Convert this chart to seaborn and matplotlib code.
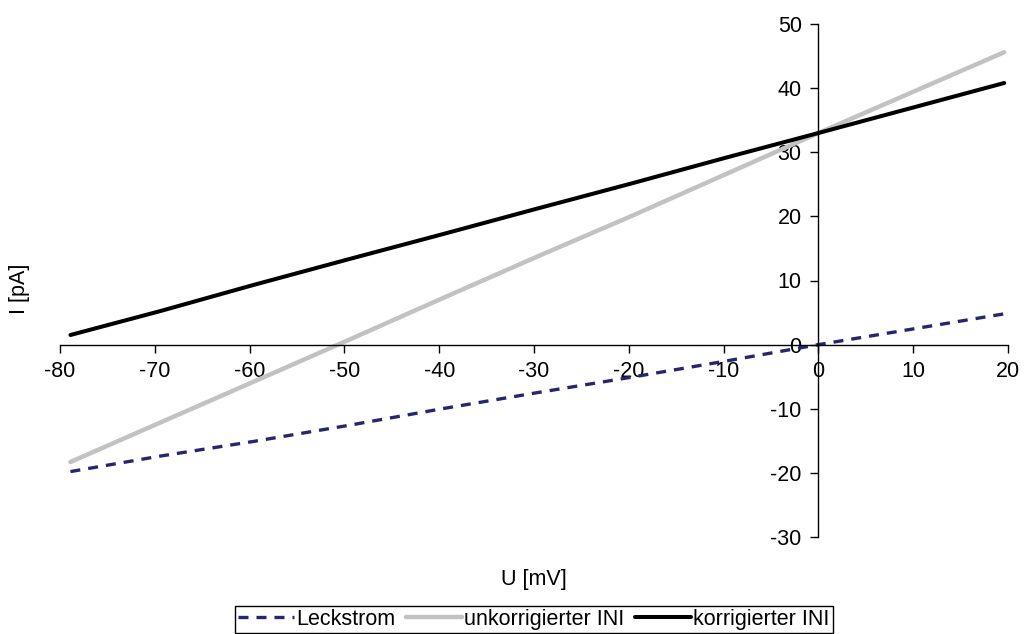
import matplotlib
matplotlib.use("Agg")
import matplotlib.pyplot as plt
import seaborn as sns
import pandas as pd

# Voltage steps (mV) and currents (pA)
spannung = [-78.9, -69.5, -59.6, -49.6, -39.7, -29.7, -19.8, -9.9, 0.0, 9.8, 19.6]
leckstrom = [-19.8, -17.4, -15.1, -12.6, -10.0, -7.5, -5.1, -2.6, 0.0, 2.4, 4.8]
unkorrigiert = [-18.3, -12.2, -5.8, 0.7, 7.2, 13.7, 20.0, 26.5, 33.0, 39.3, 45.6]
korrigiert = [1.5, 5.2, 9.3, 13.3, 17.2, 21.2, 25.1, 29.1, 33.0, 36.9, 40.8]

serien = ["Leckstrom", "unkorrigierter INI", "korrigierter INI"]
x_ticks = [-80, -70, -60, -50, -40, -30, -20, -10, 0, 10, 20]
y_ticks = [-30, -20, -10, 0, 10, 20, 30, 40, 50]

sns.set_style("white")
plt.rcParams["font.family"] = ["Liberation Sans", "DejaVu Sans"]
plt.rcParams["text.color"] = "black"
plt.rcParams["xtick.color"] = "black"
plt.rcParams["ytick.color"] = "black"

FS = 15.5

df = pd.DataFrame({
    "U": spannung * 3,
    "I": leckstrom + unkorrigiert + korrigiert,
    "Serie": [serien[0]] * len(spannung) + [serien[1]] * len(spannung) + [serien[2]] * len(spannung),
})

fig = plt.figure(figsize=(10.24, 6.34), dpi=100)
ax = fig.add_axes([60 / 1024, 97 / 634, 948 / 1024, 513 / 634])

stile = {
    serien[0]: dict(color="#26266e", lw=2.4, dashes=(3, 2.4)),
    serien[1]: dict(color="#c2c2c2", lw=3.2, dashes=None),
    serien[2]: dict(color="#000000", lw=2.9, dashes=None),
}
for name in serien:
    st = stile[name]
    sub = df[df["Serie"] == name]
    sns.lineplot(data=sub, x="U", y="I", ax=ax, color=st["color"], linewidth=st["lw"],
                 label=name, solid_capstyle="round")
    if st["dashes"] is not None:
        ax.lines[-1].set_dashes(st["dashes"])

ax.set_xlim(-80, 20)
ax.set_ylim(-30, 50)
ax.set_xticks(x_ticks)
ax.set_yticks(y_ticks)
ax.set_xticklabels([str(t) for t in x_ticks])
ax.set_yticklabels([str(t) for t in y_ticks])
ax.set_xlabel("")
ax.set_ylabel("")

for s in ["top", "right"]:
    ax.spines[s].set_visible(False)
ax.spines["left"].set_position(("data", 0))
ax.spines["bottom"].set_position(("data", 0))
for s in ["left", "bottom"]:
    ax.spines[s].set_color("black")
    ax.spines[s].set_linewidth(1.0)

ax.tick_params(axis="x", direction="out", length=6, width=1, color="black",
               labelsize=FS, pad=6, bottom=True, labelcolor="black")
ax.tick_params(axis="y", direction="out", length=6, width=1, color="black",
               labelsize=FS, pad=6, left=True, labelcolor="black")

fig.text(534 / 1024, 1 - 579 / 634, "U [mV]", ha="center", va="center", fontsize=FS)
fig.text(20 / 1024, 1 - 289 / 634, "I [pA]", ha="center", va="center", rotation=90, fontsize=FS)

leg = ax.legend(loc="center", bbox_to_anchor=(534 / 1024, 1 - 619.5 / 634),
                bbox_transform=fig.transFigure, ncol=3, frameon=True, fancybox=False,
                edgecolor="black", framealpha=1, fontsize=FS, handlelength=2.6,
                handletextpad=0.1, columnspacing=0.5, borderpad=0.15, borderaxespad=0)
leg.get_frame().set_linewidth(1.0)

fig.savefig("out.png", dpi=100)
